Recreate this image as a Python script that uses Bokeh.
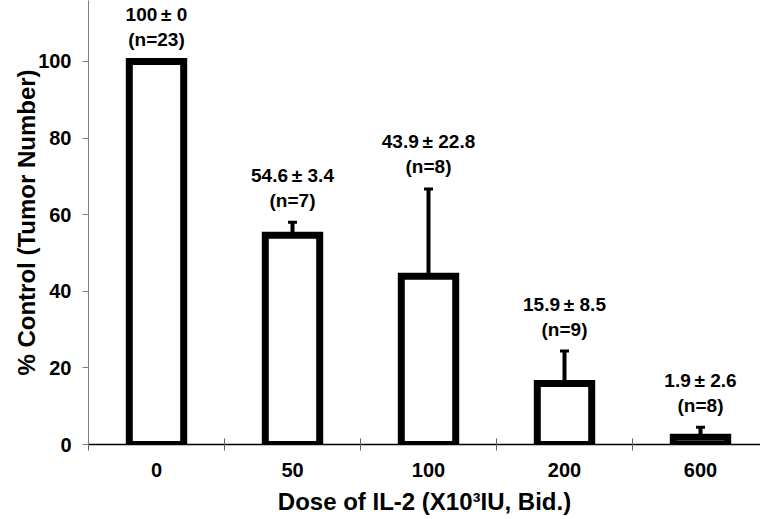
from bokeh.plotting import figure
from bokeh.models import ColumnDataSource, Range1d, FixedTicker, Whisker, TeeHead
from bokeh.core.properties import value
from bokeh.embed import file_html
from bokeh.resources import INLINE

doses = ["0", "50", "100", "200", "600"]
means = [100.0, 54.6, 43.9, 15.9, 1.9]
sds = [0.0, 3.4, 22.8, 8.5, 2.6]
ns = [23, 7, 8, 9, 8]
y_ticks = [0, 20, 40, 60, 80, 100]

xs = [i + 0.5 for i in range(len(doses))]
tops = [m + s for m, s in zip(means, sds)]
val_labels = [f"{m:g}\u2009\u00b1 {s:g}" for m, s in zip(means, sds)]
n_labels = [f"(n={n})" for n in ns]

src = ColumnDataSource(dict(x=xs, mean=means, sd=sds, top=tops, vlab=val_labels, nlab=n_labels))

FONT = "Liberation Sans"
p = figure(width=760, height=519, output_backend="svg", toolbar_location=None,
           x_range=Range1d(0, 672 / 136), y_range=Range1d(0, 115.9),
           min_border_left=88, min_border_right=0, min_border_top=0, min_border_bottom=75)
p.outline_line_color = None
p.grid.visible = False

# error bars (upper only)
wh = Whisker(source=src, base="x", upper="top", lower="mean", dimension="height",
             line_color="black", line_width=4,
             upper_head=TeeHead(size=9, line_width=3, line_color="black"), lower_head=None)
p.add_layout(wh)

p.vbar(x="x", top="mean", bottom=0, width=0.4, source=src,
       fill_color="white", line_color="black", line_width=7, line_join="miter")

p.text(x="x", y="top", text="nlab", source=src, text_align="center", text_baseline="middle",
       y_offset=-22, text_font=value(FONT), text_font_style="bold", text_font_size="19px",
       text_color="black")
p.text(x="x", y="top", text="vlab", source=src, text_align="center", text_baseline="middle",
       y_offset=-47, text_font=value(FONT), text_font_style="bold", text_font_size="19px",
       text_color="black")

# x axis: ticks at category boundaries, labels at centers
xa = p.xaxis[0]
xa.ticker = FixedTicker(ticks=xs, minor_ticks=list(range(len(doses) + 1)))
xa.major_label_overrides = {x: d for x, d in zip(xs, doses)}
xa.major_tick_line_color = None
xa.major_tick_out = 0
xa.major_tick_in = 0
xa.minor_tick_line_color = "#606060"
xa.minor_tick_in = 6
xa.minor_tick_out = 6
xa.axis_line_color = "black"
xa.axis_line_width = 1.5
xa.major_label_standoff = 12
xa.major_label_text_font = FONT
xa.major_label_text_font_style = "bold"
xa.major_label_text_font_size = "20px"
xa.major_label_text_color = "black"
xa.axis_label = "Dose of IL-2 (X10\u00b3IU, Bid.)"
xa.axis_label_text_font = FONT
xa.axis_label_text_font_style = "bold"
xa.axis_label_text_font_size = "24px"
xa.axis_label_text_color = "black"
xa.axis_label_standoff = 8

ya = p.yaxis[0]
ya.ticker = FixedTicker(ticks=y_ticks, minor_ticks=[])
ya.axis_line_color = "#808080"
ya.major_tick_line_color = "#808080"
ya.major_tick_in = 0
ya.major_tick_out = 6
ya.major_label_standoff = 11
ya.major_label_text_font = FONT
ya.major_label_text_font_style = "bold"
ya.major_label_text_font_size = "20px"
ya.major_label_text_color = "black"
ya.axis_label = "% Control (Tumor Number)"
ya.axis_label_text_font = FONT
ya.axis_label_text_font_style = "bold"
ya.axis_label_text_font_size = "24px"
ya.axis_label_text_color = "black"
ya.axis_label_standoff = -5

open("out.html", "w").write(file_html(p, INLINE))
